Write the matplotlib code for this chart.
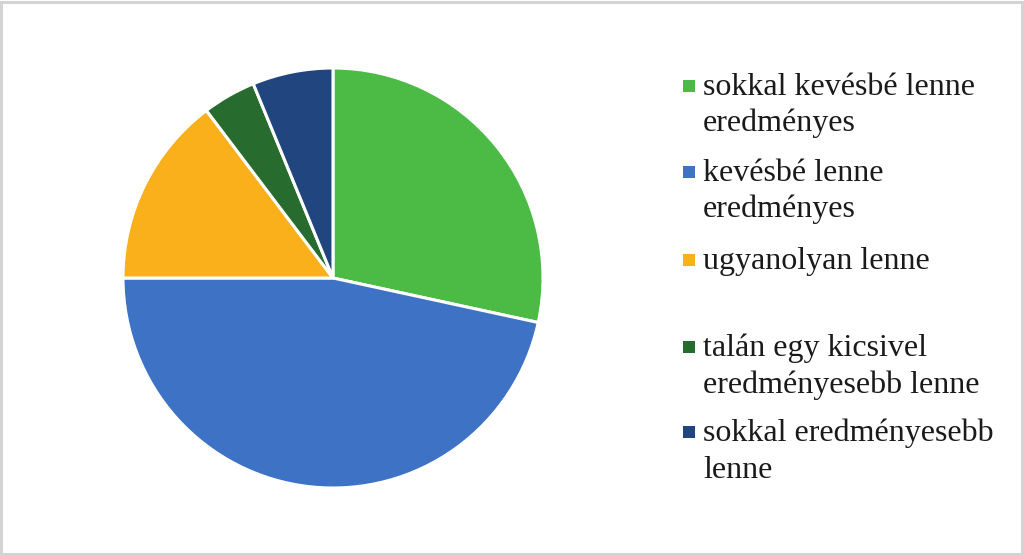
import matplotlib.pyplot as plt
from matplotlib.patches import Rectangle

# adatok (százalék)
labels = ["sokkal kevésbé lenne\neredményes",
          "kevésbé lenne\neredményes",
          "ugyanolyan lenne",
          "talán egy kicsivel\neredményesebb lenne",
          "sokkal eredményesebb\nlenne"]
values = [28.4, 46.6, 14.7, 4.1, 6.2]
colors = ["#4BBB45", "#3D72C4", "#F9B01B", "#276B2E", "#21457F"]

W, H = 1024, 555
fig = plt.figure(figsize=(W / 100, H / 100), dpi=100)

# kör: középpont (333, 278), sugár 210 px
cx, cy, r = 333, 278, 210
ax = fig.add_axes([(cx - r) / W, (H - cy - r) / H, 2 * r / W, 2 * r / H])
ax.pie(values, colors=colors, startangle=90, counterclock=False,
       wedgeprops=dict(edgecolor="white", linewidth=2.2))
ax.set_xlim(-1, 1)
ax.set_ylim(-1, 1)
ax.set_aspect("equal")
ax.axis("off")

# jelmagyarázat kézzel
marker_y = [86, 172, 260, 347, 432]
line_h = 36.5
for i, lab in enumerate(labels):
    my = marker_y[i]
    fig.patches.append(Rectangle((683 / W, (H - my - 6) / H), 12 / W, 12 / H,
                                 transform=fig.transFigure, facecolor=colors[i],
                                 edgecolor="none"))
    for k, line in enumerate(lab.split("\n")):
        by = my + 9 + k * line_h
        fig.text(703 / W, (H - by) / H, line, fontsize=23,
                 family="Liberation Serif", color="#1a1a1a", va="baseline", ha="left")

# keret
fig.patches.append(Rectangle((0.001, 0.002), 0.997, 0.995, transform=fig.transFigure,
                             facecolor="none", edgecolor="#D3D3D3", linewidth=2.2))

fig.savefig("out.png", dpi=100)
